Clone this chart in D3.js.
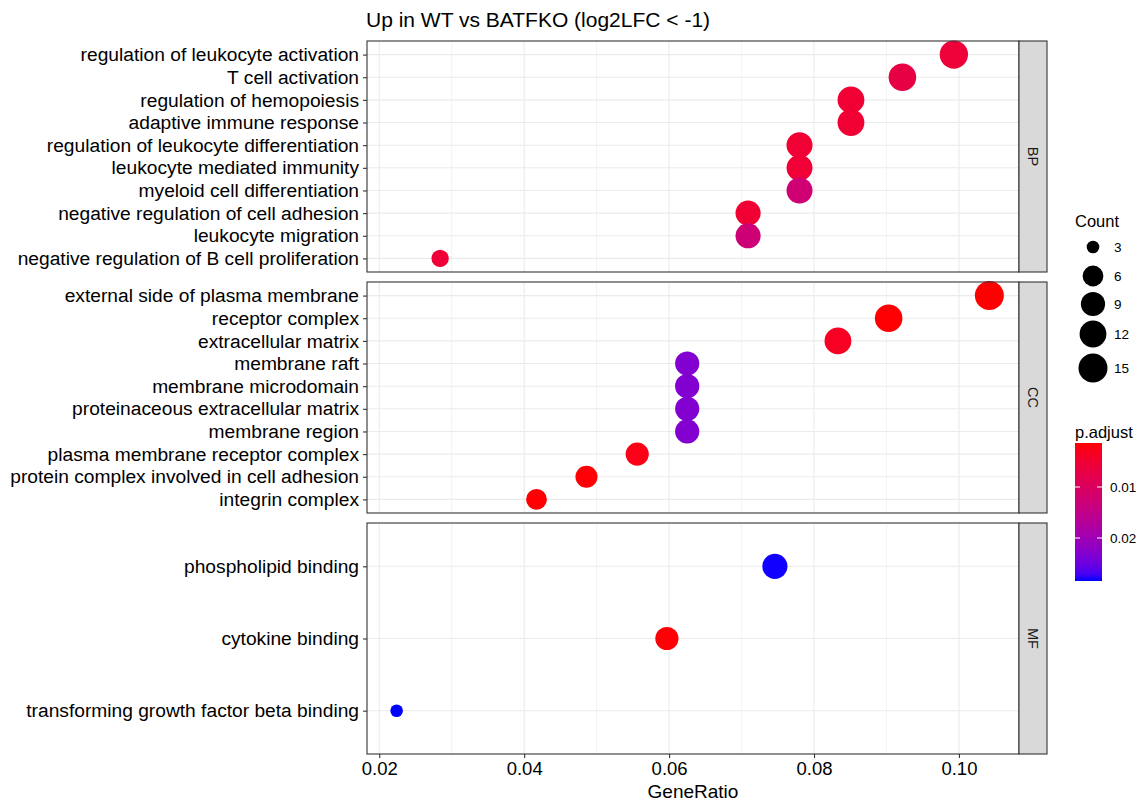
<!DOCTYPE html>
<html>
<head>
<meta charset="utf-8">
<script src="https://cdn.jsdelivr.net/npm/d3@7/dist/d3.min.js"></script>
<style>
  html, body { margin: 0; padding: 0; background: #fff; }
  svg { display: block; font-family: "Liberation Sans", Arial, Helvetica, sans-serif; }
</style>
</head>
<body>
<svg id="chart" width="1142" height="804"></svg>
<script>
// GO enrichment results, one block per ontology (terms listed top to bottom)
const bpTerms = [
  "regulation of leukocyte activation",
  "T cell activation",
  "regulation of hemopoiesis",
  "adaptive immune response",
  "regulation of leukocyte differentiation",
  "leukocyte mediated immunity",
  "myeloid cell differentiation",
  "negative regulation of cell adhesion",
  "leukocyte migration",
  "negative regulation of B cell proliferation"
];
const bpGeneRatio = [0.0993, 0.0922, 0.0851, 0.0851, 0.0780, 0.0780, 0.0780, 0.0709, 0.0709, 0.0284];
const bpCount     = [14, 13, 12, 12, 11, 11, 11, 10, 10, 4];
const bpPadj      = [0.0056, 0.0069, 0.0050, 0.0050, 0.0050, 0.0051, 0.0125, 0.0050, 0.0126, 0.0054];

const ccTerms = [
  "external side of plasma membrane",
  "receptor complex",
  "extracellular matrix",
  "membrane raft",
  "membrane microdomain",
  "proteinaceous extracellular matrix",
  "membrane region",
  "plasma membrane receptor complex",
  "protein complex involved in cell adhesion",
  "integrin complex"
];
const ccGeneRatio = [0.1042, 0.0903, 0.0833, 0.0625, 0.0625, 0.0625, 0.0625, 0.0556, 0.0486, 0.0417];
const ccCount     = [15, 13, 12, 9, 9, 9, 9, 8, 7, 6];
const ccPadj      = [0.00137, 0.0015, 0.0035, 0.0232, 0.0232, 0.0232, 0.0232, 0.0025, 0.0016, 0.0015];

const mfTerms = [
  "phospholipid binding",
  "cytokine binding",
  "transforming growth factor beta binding"
];
const mfGeneRatio = [0.0746, 0.0597, 0.0224];
const mfCount     = [10, 8, 3];
const mfPadj      = [0.0283, 0.0016, 0.02843];

const ontologies = ["BP", "CC", "MF"];
const xTicks = [0.02, 0.04, 0.06, 0.08, 0.10];
const xMinorTicks = [0.03, 0.05, 0.07, 0.09];
const countBreaks = [3, 6, 9, 12, 15];
const padjBreaks = [0.01, 0.02];
const titleText = "Up in WT vs BATFKO (log2LFC < -1)";

// ---- assemble facets ----
const facets = [
  { name: ontologies[0], terms: bpTerms, ratio: bpGeneRatio, count: bpCount, padj: bpPadj },
  { name: ontologies[1], terms: ccTerms, ratio: ccGeneRatio, count: ccCount, padj: ccPadj },
  { name: ontologies[2], terms: mfTerms, ratio: mfGeneRatio, count: mfCount, padj: mfPadj }
];
const allRatio = facets.flatMap(f => f.ratio);
const allCount = facets.flatMap(f => f.count);
const allPadj  = facets.flatMap(f => f.padj);

// ---- layout ----
const svg = d3.select("#chart");
const panelLeft = 367, panelRight = 1019, stripW = 28;
const panelTops = [41, 282, 523], panelH = 231;
const axisY = panelTops[2] + panelH;

// ---- scales ----
const [rMin, rMax] = d3.extent(allRatio);
const expand = (rMax - rMin) * 0.05;
const x = d3.scaleLinear().domain([rMin - expand, rMax + expand]).range([panelLeft, panelRight]);

const [cMin, cMax] = d3.extent(allCount);
const rSmall = 6.3, rBig = 14.5;
const radius = c => rSmall + (rBig - rSmall) * Math.sqrt((c - cMin) / (cMax - cMin));

const [pMin, pMax] = d3.extent(allPadj);
const color = d3.scaleLinear().domain([pMin, pMax]).range(["red", "blue"]).interpolate(d3.interpolateLab);

const gridCol = "#EBEBEB", borderCol = "#333333";

// ---- panels ----
facets.forEach((f, i) => {
  const top = panelTops[i];
  const y = d3.scalePoint().domain(f.terms).range([top, top + panelH]).padding(0.6);
  const g = svg.append("g");

  g.append("rect").attr("x", panelLeft).attr("y", top)
    .attr("width", panelRight - panelLeft).attr("height", panelH).attr("fill", "#fff");

  // grid
  g.selectAll(".minor").data(xMinorTicks).join("line")
    .attr("x1", d => x(d)).attr("x2", d => x(d)).attr("y1", top).attr("y2", top + panelH)
    .attr("stroke", gridCol).attr("stroke-width", 0.6);
  g.selectAll(".majx").data(xTicks).join("line")
    .attr("x1", d => x(d)).attr("x2", d => x(d)).attr("y1", top).attr("y2", top + panelH)
    .attr("stroke", gridCol).attr("stroke-width", 1.1);
  g.selectAll(".majy").data(f.terms).join("line")
    .attr("x1", panelLeft).attr("x2", panelRight).attr("y1", d => y(d)).attr("y2", d => y(d))
    .attr("stroke", gridCol).attr("stroke-width", 1.1);

  // dots
  const rows = f.terms.map((t, k) => ({ term: t, ratio: f.ratio[k], count: f.count[k], padj: f.padj[k] }));
  g.selectAll("circle").data(rows).join("circle")
    .attr("cx", d => x(d.ratio)).attr("cy", d => y(d.term))
    .attr("r", d => radius(d.count)).attr("fill", d => color(d.padj));

  // border
  g.append("rect").attr("x", panelLeft).attr("y", top)
    .attr("width", panelRight - panelLeft).attr("height", panelH)
    .attr("fill", "none").attr("stroke", borderCol).attr("stroke-width", 1.1);

  // y axis
  const ya = svg.append("g").attr("transform", `translate(${panelLeft},0)`)
    .call(d3.axisLeft(y).tickSize(4).tickPadding(4));
  ya.select(".domain").remove();
  ya.selectAll(".tick line").attr("stroke", borderCol).attr("stroke-width", 1.1);
  ya.selectAll(".tick text").attr("fill", "#000").style("font-size", "19.2px")
    .style("font-family", "'Liberation Sans', Arial, sans-serif");

  // strip
  svg.append("rect").attr("x", panelRight).attr("y", top).attr("width", stripW).attr("height", panelH)
    .attr("fill", "#D9D9D9").attr("stroke", borderCol).attr("stroke-width", 1.1);
  svg.append("text")
    .attr("transform", `translate(${panelRight + stripW / 2},${top + panelH / 2}) rotate(90)`)
    .attr("text-anchor", "middle").attr("dominant-baseline", "central")
    .attr("fill", "#1A1A1A").style("font-size", "14.5px").text(f.name);
});

// ---- x axis ----
const xa = svg.append("g").attr("transform", `translate(0,${axisY})`)
  .call(d3.axisBottom(x).tickValues(xTicks).tickFormat(d3.format(".2f")).tickSize(4).tickPadding(4));
xa.select(".domain").remove();
xa.selectAll(".tick line").attr("stroke", borderCol).attr("stroke-width", 1.1);
xa.selectAll(".tick text").attr("fill", "#000").style("font-size", "18.5px")
  .style("font-family", "'Liberation Sans', Arial, sans-serif");

svg.append("text").attr("x", (panelLeft + panelRight) / 2).attr("y", 798)
  .attr("text-anchor", "middle").style("font-size", "19px").attr("fill", "#000").text("GeneRatio");

// ---- title ----
svg.append("text").attr("x", 366).attr("y", 27).style("font-size", "21px").attr("fill", "#000").text(titleText);

// ---- size legend ----
const legX = 1075;
svg.append("text").attr("x", legX).attr("y", 227).style("font-size", "16.5px").attr("fill", "#000").text("Count");
const keyY = [247, 276, 304, 334, 368];
countBreaks.forEach((c, k) => {
  svg.append("circle").attr("cx", 1093).attr("cy", keyY[k]).attr("r", radius(c)).attr("fill", "#000");
  svg.append("text").attr("x", 1114).attr("y", keyY[k]).attr("dominant-baseline", "central")
    .style("font-size", "13.5px").attr("fill", "#000").text(c);
});

// ---- colour bar (low p.adjust on top) ----
svg.append("text").attr("x", legX).attr("y", 438).style("font-size", "16.5px").attr("fill", "#000").text("p.adjust");
const barTop = 443, barBot = 581, barX = 1075, barW = 27;
const defs = svg.append("defs");
const grad = defs.append("linearGradient").attr("id", "padjGrad")
  .attr("x1", 0).attr("y1", 0).attr("x2", 0).attr("y2", 1);
d3.range(0, 1.0001, 0.05).forEach(t => {
  grad.append("stop").attr("offset", t).attr("stop-color", color(pMin + t * (pMax - pMin)));
});
svg.append("rect").attr("x", barX).attr("y", barTop).attr("width", barW).attr("height", barBot - barTop)
  .attr("fill", "url(#padjGrad)");
const barScale = d3.scaleLinear().domain([pMin, pMax]).range([barTop, barBot]);
padjBreaks.forEach(b => {
  const yy = barScale(b);
  svg.append("line").attr("x1", barX).attr("x2", barX + 5).attr("y1", yy).attr("y2", yy)
    .attr("stroke", "#fff").attr("stroke-width", 1);
  svg.append("line").attr("x1", barX + barW - 5).attr("x2", barX + barW).attr("y1", yy).attr("y2", yy)
    .attr("stroke", "#fff").attr("stroke-width", 1);
  svg.append("text").attr("x", 1110).attr("y", yy).attr("dominant-baseline", "central")
    .style("font-size", "13.5px").attr("fill", "#000").text(d3.format(".2f")(b));
});
</script>
</body>
</html>
